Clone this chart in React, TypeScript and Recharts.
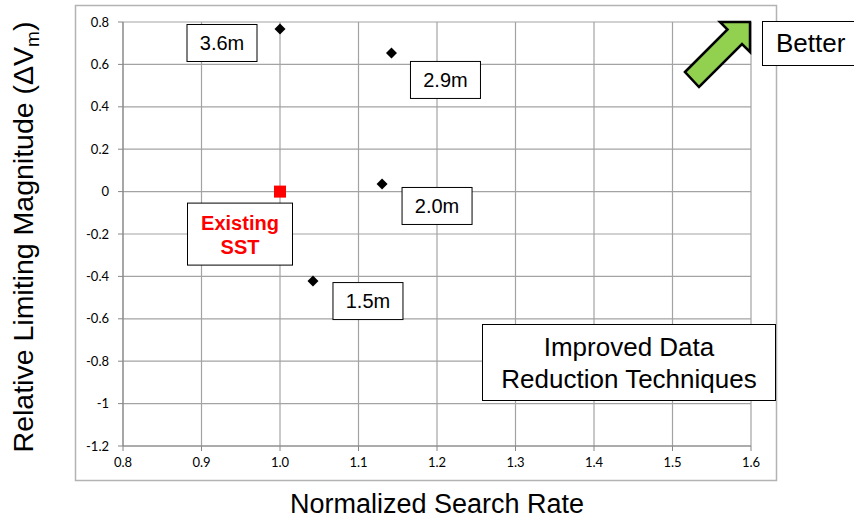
import React from "react";
import {
	ScatterChart,
	Scatter,
	XAxis,
	YAxis,
	CartesianGrid,
} from "recharts";

// sensor aperture options
const pointNames = ["3.6m", "2.9m", "2.0m", "1.5m"];
const searchRate = [1.0, 1.142, 1.13, 1.042];
const limitingMag = [0.767, 0.654, 0.036, -0.422];

// current system
const existingName = ["Existing SST"];
const existingRate = [1.0];
const existingMag = [0];

const xTicks = [0.8, 0.9, 1.0, 1.1, 1.2, 1.3, 1.4, 1.5, 1.6];
const yTicks = [-1.2, -1, -0.8, -0.6, -0.4, -0.2, 0, 0.2, 0.4, 0.6, 0.8];

const options = pointNames.map((name, i) => ({
	name,
	x: searchRate[i],
	y: limitingMag[i],
}));
const existing = existingName.map((name, i) => ({
	name,
	x: existingRate[i],
	y: existingMag[i],
}));

// where each callout box sits relative to its point (px)
const calloutOffsets: Record<string, [number, number]> = {
	"3.6m": [-58, 14],
	"2.9m": [54, 27],
	"2.0m": [55, 22],
	"1.5m": [55, 20],
};

const font = "'Liberation Sans', Arial, sans-serif";
const gridColor = "#a3a3a3";

const Diamond = (props: any) => {
	const { cx, cy, payload } = props;
	const [dx, dy] = calloutOffsets[payload.name] || [0, 0];
	const r = 5.5;
	return (
		<g>
			<polygon
				points={`${cx},${cy - r} ${cx + r},${cy} ${cx},${cy + r} ${cx - r},${cy}`}
				fill="#000"
			/>
			<rect
				x={cx + dx - 35}
				y={cy + dy - 18.5}
				width={70}
				height={37}
				fill="#fff"
				stroke="#000"
				strokeWidth={1}
			/>
			<text
				x={cx + dx}
				y={cy + dy + 7}
				textAnchor="middle"
				fontFamily={font}
				fontSize={20}
				fill="#000"
			>
				{payload.name}
			</text>
		</g>
	);
};

const RedSquare = (props: any) => {
	const { cx, cy, payload } = props;
	const [first, second] = payload.name.split(" ");
	const bx = cx - 40;
	const by = cy + 42.5;
	return (
		<g>
			<rect x={cx - 6} y={cy - 6} width={12} height={12} fill="#ff0000" />
			<rect
				x={bx - 52.5}
				y={by - 31}
				width={105}
				height={62}
				fill="#fff"
				stroke="#000"
				strokeWidth={1}
			/>
			<text
				x={bx}
				y={by - 4}
				textAnchor="middle"
				fontFamily={font}
				fontWeight="bold"
				fontSize={20}
				fill="#ff0000"
			>
				{first}
			</text>
			<text
				x={bx}
				y={by + 20}
				textAnchor="middle"
				fontFamily={font}
				fontWeight="bold"
				fontSize={20}
				fill="#ff0000"
			>
				{second}
			</text>
		</g>
	);
};

export default function App() {
	return (
		<div
			style={{
				position: "absolute",
				left: 0,
				top: 0,
				width: 854,
				height: 520,
				background: "#fff",
			}}
		>
			<svg
				width={854}
				height={520}
				style={{ position: "absolute", left: 0, top: 0 }}
			>
				<rect
					x={75.5}
					y={5.5}
					width={701}
					height={475}
					fill="#fff"
					stroke="#b3b3b3"
					strokeWidth={1.5}
				/>
			</svg>
			<div style={{ position: "absolute", left: 0, top: 0 }}>
				<ScatterChart
					width={854}
					height={520}
					margin={{ top: 22, right: 103, bottom: 44, left: 83 }}
				>
					<CartesianGrid stroke={gridColor} strokeWidth={1.2} />
					<XAxis
						type="number"
						dataKey="x"
						domain={[0.8, 1.6]}
						ticks={xTicks}
						tickFormatter={(v: number) => v.toFixed(1)}
						allowDataOverflow
						height={30}
						stroke="#868686"
						tickSize={5}
						tickMargin={7}
						tick={{ fill: "#000", fontSize: 13, fontFamily: "Lato, sans-serif" }}
					/>
					<YAxis
						type="number"
						dataKey="y"
						domain={[-1.2, 0.8]}
						ticks={yTicks}
						tickFormatter={(v: number) => String(Math.round(v * 10) / 10)}
						allowDataOverflow
						width={40}
						stroke="#868686"
						tickSize={5}
						tickMargin={9}
						tick={{ fill: "#000", fontSize: 13, fontFamily: "Lato, sans-serif" }}
					/>
					<Scatter
						data={options}
						shape={<Diamond />}
						isAnimationActive={false}
					/>
					<Scatter
						data={existing}
						shape={<RedSquare />}
						isAnimationActive={false}
					/>
				</ScatterChart>
			</div>
			<svg
				width={854}
				height={520}
				style={{ position: "absolute", left: 0, top: 0, pointerEvents: "none" }}
			>
				{/* "better" arrow */}
				<polygon
					points="685,72 727.5,29.5 720,22 750,22 750,52 742,44 699,87"
					fill="#92d050"
					stroke="#000"
					strokeWidth={2.5}
					strokeLinejoin="miter"
				/>
				<rect
					x={762.5}
					y={21.5}
					width={120}
					height={44}
					fill="#fff"
					stroke="#000"
					strokeWidth={1}
				/>
				<text x={776} y={52} fontFamily={font} fontSize={26} fill="#000">
					Better
				</text>

				<rect
					x={482.5}
					y={324.5}
					width={293}
					height={76}
					fill="#fff"
					stroke="#000"
					strokeWidth={1}
				/>
				<text
					x={629}
					y={356}
					textAnchor="middle"
					fontFamily={font}
					fontSize={26}
					fill="#000"
				>
					Improved Data
				</text>
				<text
					x={629}
					y={388}
					textAnchor="middle"
					fontFamily={font}
					fontSize={26}
					fill="#000"
				>
					Reduction Techniques
				</text>

				<text
					x={437}
					y={513}
					textAnchor="middle"
					fontFamily={font}
					fontSize={27}
					fill="#000"
				>
					Normalized Search Rate
				</text>
				<text
					transform="translate(33,237) rotate(-90)"
					textAnchor="middle"
					fontFamily={font}
					fontSize={28.5}
					fill="#000"
				>
					Relative Limiting Magnitude (ΔV
					<tspan fontSize={19} dy={6}>
						m
					</tspan>
					<tspan dy={-6}>)</tspan>
				</text>
			</svg>
		</div>
	);
}
